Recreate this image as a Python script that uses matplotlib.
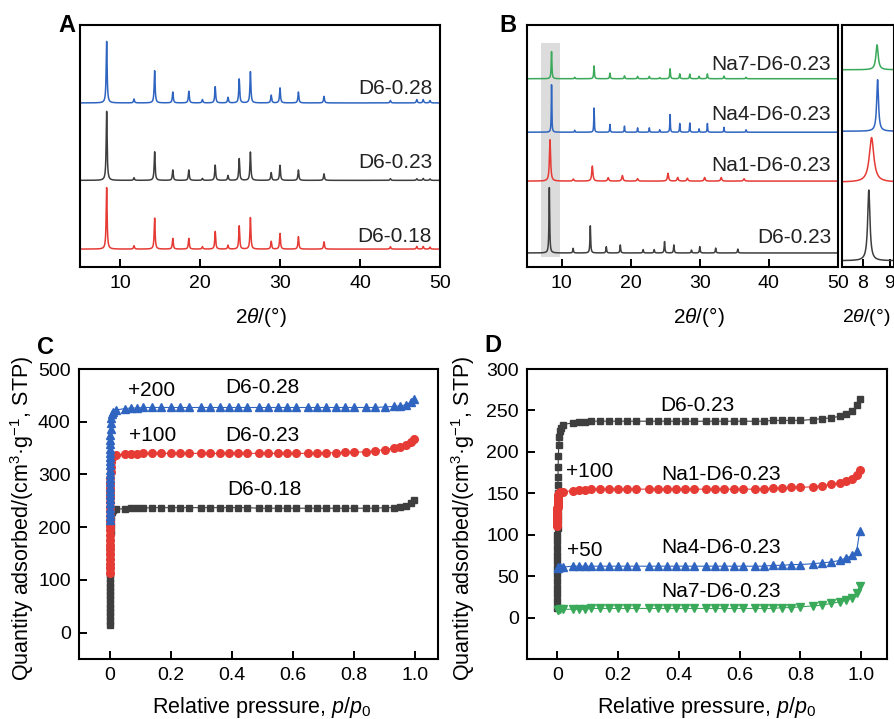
import numpy as np
import matplotlib
matplotlib.use("Agg")
import matplotlib.pyplot as plt

plt.rcParams['font.family'] = ['Liberation Sans', 'DejaVu Sans']
plt.rcParams['mathtext.fontset'] = 'custom'
plt.rcParams['mathtext.rm'] = 'Liberation Sans'
plt.rcParams['mathtext.it'] = 'Liberation Sans:italic'

# ---------------- data: XRD peak lists (2theta, height) ----------------
# panel A, same phase for the three samples
pos_a = [8.33, 11.75, 14.33, 16.6, 18.6, 20.3, 21.9, 23.5, 24.9, 26.3, 28.9, 30.0, 32.3, 35.5, 43.8, 47.1, 47.9, 48.75]
h_d6_028 = [25.4, 1.6, 13.3, 4.5, 4.8, 1.4, 6.7, 2.3, 9.9, 12.9, 3.2, 6.2, 4.5, 2.7, 1.0, 1.4, 1.4, 1.0]
h_d6_023 = [28.5, 1.1, 11.8, 4.3, 4.3, 0.8, 6.3, 2.0, 9.0, 11.7, 3.2, 6.2, 4.3, 2.7, 0.7, 0.7, 0.8, 0.6]
h_d6_018 = [25.4, 1.4, 12.8, 4.4, 4.4, 1.0, 7.3, 1.6, 9.6, 13.0, 3.2, 6.4, 5.1, 3.0, 1.0, 1.1, 1.1, 0.8]
labels_a = ['D6-0.28', 'D6-0.23', 'D6-0.18']

# panel B
pos_b_d6 = [8.23, 11.67, 14.16, 16.47, 18.5, 21.8, 23.4, 24.9, 26.25, 28.8, 30.0, 32.3, 35.5]
h_b_d6 = [27.0, 1.9, 11.2, 2.6, 3.3, 1.4, 1.4, 4.7, 3.3, 1.2, 2.6, 2.0, 1.6]
pos_b_na1 = [8.33, 11.7, 14.45, 16.75, 18.8, 21.0, 25.4, 26.8, 28.2, 30.7, 33.1, 36.4]
h_b_na1 = [17.1, 0.8, 6.2, 1.4, 2.3, 1.0, 3.2, 1.5, 1.2, 1.5, 1.5, 1.0]
pos_b_na = [8.55, 11.9, 14.7, 17.0, 19.1, 21.0, 22.7, 24.2, 25.7, 27.1, 28.55, 29.9, 31.1, 33.5, 36.7]
h_b_na4 = [19.6, 0.8, 10.0, 3.2, 2.5, 1.8, 1.8, 1.0, 7.3, 3.6, 3.8, 1.4, 3.6, 2.0, 1.0]
h_b_na7 = [11.2, 0.6, 5.3, 2.3, 1.2, 1.0, 1.0, 0.5, 4.1, 2.0, 1.9, 1.0, 2.0, 1.1, 0.6]
labels_b = ['Na7-D6-0.23', 'Na4-D6-0.23', 'Na1-D6-0.23', 'D6-0.23']
# zoomed first peak (inset): position, height
inset_pos = [8.53, 8.55, 8.33, 8.23]
inset_h = [10.3, 21.3, 18.4, 29.2]

# ---------------- data: N2 isotherms ----------------
p_low = [0.00001, 0.00002, 0.00003, 0.00004, 0.00005, 0.00007, 0.00009, 0.00012, 0.00015, 0.0002,
         0.00025, 0.0003, 0.0004, 0.0005, 0.0006, 0.0008, 0.001, 0.0013, 0.0016, 0.002,
         0.0026, 0.0033, 0.0045, 0.006, 0.008, 0.011]
p_high = [0.02, 0.05, 0.07, 0.09, 0.11, 0.14, 0.17, 0.2, 0.23, 0.26, 0.3, 0.33, 0.36, 0.39, 0.42,
          0.45, 0.49, 0.52, 0.55, 0.58, 0.61, 0.65, 0.68, 0.71, 0.74, 0.77, 0.8, 0.84, 0.87, 0.9,
          0.93, 0.95, 0.97, 0.985, 0.995]

# panel C
c018_low = [15, 23, 31, 39, 47, 55, 63, 71, 79, 87, 95, 103, 111, 119, 127, 135, 143, 151, 159, 167,
            178, 190, 205, 218, 228, 233]
c018_high = [234, 235, 236, 236, 236, 237, 237, 237, 237, 237, 237, 237, 237, 237, 237, 237, 236, 236,
             236, 236, 236, 236, 236, 236, 236, 236, 236, 236, 236, 237, 237, 238, 240, 246, 251]
c023_low = [13, 22, 31, 40, 49, 58, 67, 76, 85, 94, 103, 112, 121, 130, 139, 148, 157, 166, 175, 184,
            194, 204, 214, 224, 231, 235]
c023_high = [236, 238, 239, 239, 240, 240, 240, 240, 240, 240, 240, 240, 240, 240, 240, 240, 240, 240,
             240, 240, 240, 240, 240, 241, 241, 242, 242, 243, 245, 247, 250, 253, 256, 262, 268]
c028_low = [13, 21, 29, 37, 45, 53, 61, 69, 77, 85, 93, 101, 109, 117, 125, 133, 141, 149, 157, 165,
            175, 186, 198, 208, 215, 219]
c028_high = [222, 225, 226, 226, 227, 227, 227, 227, 227, 227, 227, 227, 227, 227, 227, 227, 227, 227,
             227, 227, 227, 227, 227, 227, 227, 227, 227, 227, 227, 228, 229, 230, 232, 237, 244]

# panel D
d0_low = [12, 20, 28, 36, 44, 52, 60, 68, 76, 84, 92, 100, 108, 116, 124, 132, 140, 150, 160, 170,
          182, 195, 208, 218, 225, 229]
d0_high = [233, 235, 236, 236, 237, 237, 237, 237, 237, 237, 237, 237, 237, 237, 237, 237, 237, 237,
           237, 237, 237, 237, 237, 238, 238, 238, 238, 239, 240, 241, 243, 246, 249, 256, 264]
dna1_low = [10, 12, 14, 16, 18, 20, 22, 24, 26, 28, 30, 32, 34, 36, 38, 40, 42, 44, 45, 46,
            47, 48, 49, 50, 51, 52]
dna1_high = [52, 53, 54, 54, 55, 55, 55, 55, 55, 55, 55, 55, 55, 55, 55, 55, 55, 55, 55, 55, 55, 55,
             55, 56, 56, 57, 57, 58, 59, 61, 63, 65, 67, 72, 78]
p_low_na = [0.0005, 0.003, 0.008]
dna4_low = [10, 11, 11]
dna4_high = [11, 12, 12, 12, 12, 12, 12, 12, 12, 12, 12, 12, 12, 12, 12, 12, 12, 12, 12, 12, 12, 12,
             12, 13, 13, 14, 14, 15, 16, 17, 19, 22, 25, 30, 54]
dna7_low = [9, 9.5, 10]
dna7_high = [10, 10, 10, 10, 11, 11, 11, 11, 11, 11, 11, 11, 11, 11, 11, 11, 11, 11, 11, 11, 11, 11,
             11, 11, 12, 12, 13, 14, 15, 17, 19, 21, 24, 30, 38]

BLUE = '#2f65c0'
BLACK = '#3e3e3e'
RED = '#e63b35'
GREEN = '#3aa95a'

W, H = 895, 719
fig = plt.figure(figsize=(W / 100, H / 100), dpi=100)


def box(x0, y0, x1, y1):
    return [x0 / W, 1 - y1 / H, (x1 - x0) / W, (y1 - y0) / H]


def profile(x, pos, hts, gamma, base):
    y = np.full_like(x, base, dtype=float)
    for p0, h in zip(pos, hts):
        y += h * gamma ** 2 / ((x - p0) ** 2 + gamma ** 2)
    return y


def style(ax, ylabels=False):
    for s in ax.spines.values():
        s.set_linewidth(1.5)
    ax.tick_params(direction='in', length=6, width=1.4, labelsize=14, pad=6,
                   top=False, right=False, left=ylabels, labelleft=ylabels)


tt = np.arange(5, 50.001, 0.005)

# ---------------- A ----------------
axA = fig.add_axes(box(80, 25, 440, 267))
for hts, base, col, lab, ly in zip([h_d6_028, h_d6_023, h_d6_018], [67.8, 35.8, 7.4],
                                   [BLUE, BLACK, RED], labels_a, [73.9, 43.1, 12.6]):
    axA.plot(tt, profile(tt, pos_a, hts, 0.07, base), color=col, lw=1.1)
    axA.text(49.0, ly, lab, ha='right', va='center', fontsize=15, color='#222222')
axA.set_xlim(5, 50)
axA.set_ylim(0, 100)
axA.set_xticks([10, 20, 30, 40, 50])
style(axA)

# ---------------- B ----------------
axB = fig.add_axes(box(527, 25, 838, 267))
axB.fill_between([7.0, 9.8], 4.1, 92.6, color='#dcdcdc', lw=0)
b_sets = [(pos_b_na, h_b_na7, 77.8, GREEN, 0.06),
          (pos_b_na, h_b_na4, 55.7, BLUE, 0.045),
          (pos_b_na1, h_b_na1, 35.5, RED, 0.1),
          (pos_b_d6, h_b_d6, 5.8, BLACK, 0.06)]
for (pos, hts, base, col, g), lab, ly in zip(b_sets, labels_b, [83.5, 63.0, 42.1, 12.2]):
    axB.plot(tt, profile(tt, pos, hts, g, base), color=col, lw=1.1)
    axB.text(49.0, ly, lab, ha='right', va='center', fontsize=15, color='#222222')
axB.set_xlim(5, 50)
axB.set_ylim(0, 100)
axB.set_xticks([10, 20, 30, 40, 50])
style(axB)

axI = fig.add_axes(box(842, 25, 894, 267))
ti = np.arange(7.2, 9.2, 0.002)
for p0, h, base, col, g in zip(inset_pos, inset_h, [81.5, 56.1, 35.1, 2.6],
                               [GREEN, BLUE, RED, BLACK], [0.05, 0.04, 0.1, 0.05]):
    axI.plot(ti, profile(ti, [p0], [h], g, base), color=col, lw=1.1)
axI.set_xlim(7.25, 9.15)
axI.set_ylim(0, 100)
axI.set_xticks([8, 9])
style(axI)

# ---------------- C ----------------
axC = fig.add_axes(box(79, 369, 438, 659))
c_sets = [(c018_low, c018_high, 0, BLACK, 's', 5),
          (c023_low, c023_high, 100, RED, 'o', 5.5),
          (c028_low, c028_high, 200, BLUE, '^', 6)]
for low, high, off, col, mk, ms in c_sets:
    p = p_low + p_high
    q = np.array(low + high) + off
    axC.plot(p, q, color=col, marker=mk, ms=ms, lw=0.8, mec=col)
axC.text(0.137, 459, '+200', ha='center', va='center', fontsize=15)
axC.text(0.50, 465, 'D6-0.28', ha='center', va='center', fontsize=15)
axC.text(0.142, 374, '+100', ha='center', va='center', fontsize=15)
axC.text(0.50, 374, 'D6-0.23', ha='center', va='center', fontsize=15)
axC.text(0.506, 271, 'D6-0.18', ha='center', va='center', fontsize=15)
axC.set_xlim(-0.1, 1.075)
axC.set_ylim(-50, 500)
axC.set_xticks([0, 0.2, 0.4, 0.6, 0.8, 1.0])
axC.set_xticklabels(['0', '0.2', '0.4', '0.6', '0.8', '1.0'])
axC.set_yticks([0, 100, 200, 300, 400, 500])
style(axC, ylabels=True)

# ---------------- D ----------------
axD = fig.add_axes(box(527, 369, 887, 659))
d_sets = [(p_low, d0_low, d0_high, 0, BLACK, 's', 5),
          (p_low, dna1_low, dna1_high, 100, RED, 'o', 5.5),
          (p_low_na, dna4_low, dna4_high, 50, BLUE, '^', 6),
          (p_low_na, dna7_low, dna7_high, 0, GREEN, 'v', 6)]
for pl, low, high, off, col, mk, ms in d_sets:
    p = pl + p_high
    q = np.array(low + high) + off
    axD.plot(p, q, color=col, marker=mk, ms=ms, lw=0.8, mec=col)
axD.text(0.462, 256, 'D6-0.23', ha='center', va='center', fontsize=15)
axD.text(0.107, 176, '+100', ha='center', va='center', fontsize=15)
axD.text(0.539, 173, 'Na1-D6-0.23', ha='center', va='center', fontsize=15)
axD.text(0.09, 81, '+50', ha='center', va='center', fontsize=15)
axD.text(0.539, 84, 'Na4-D6-0.23', ha='center', va='center', fontsize=15)
axD.text(0.539, 32, 'Na7-D6-0.23', ha='center', va='center', fontsize=15)
axD.set_xlim(-0.1, 1.085)
axD.set_ylim(-50, 300)
axD.set_xticks([0, 0.2, 0.4, 0.6, 0.8, 1.0])
axD.set_xticklabels(['0', '0.2', '0.4', '0.6', '0.8', '1.0'])
axD.set_yticks([0, 50, 100, 150, 200, 250, 300])
style(axD, ylabels=True)

# ---------------- figure texts ----------------
def ftext(x, y, s, **kw):
    fig.text(x / W, 1 - y / H, s, ha='center', va='center', **kw)


tth = r'2$\theta$/(°)'
ftext(261, 317, tth, fontsize=15)
ftext(699, 317, tth, fontsize=15)
ftext(866, 317, tth, fontsize=14)
ftext(262, 708, r'Relative pressure, $p$/$p_0$', fontsize=15.5)
ftext(707, 708, r'Relative pressure, $p$/$p_0$', fontsize=15.5)
ylab = r'Quantity adsorbed/(cm$^{3}$·g$^{-1}$, STP)'
ftext(22, 518, ylab, fontsize=15.5, rotation=90)
ftext(463, 518, ylab, fontsize=15.5, rotation=90)
for lx, ly, letter in [(67, 25, 'A'), (508, 25, 'B'), (45, 347, 'C'), (493, 345, 'D')]:
    ftext(lx, ly, letter, fontsize=17, fontweight='bold')

fig.savefig('out.png', dpi=100)
